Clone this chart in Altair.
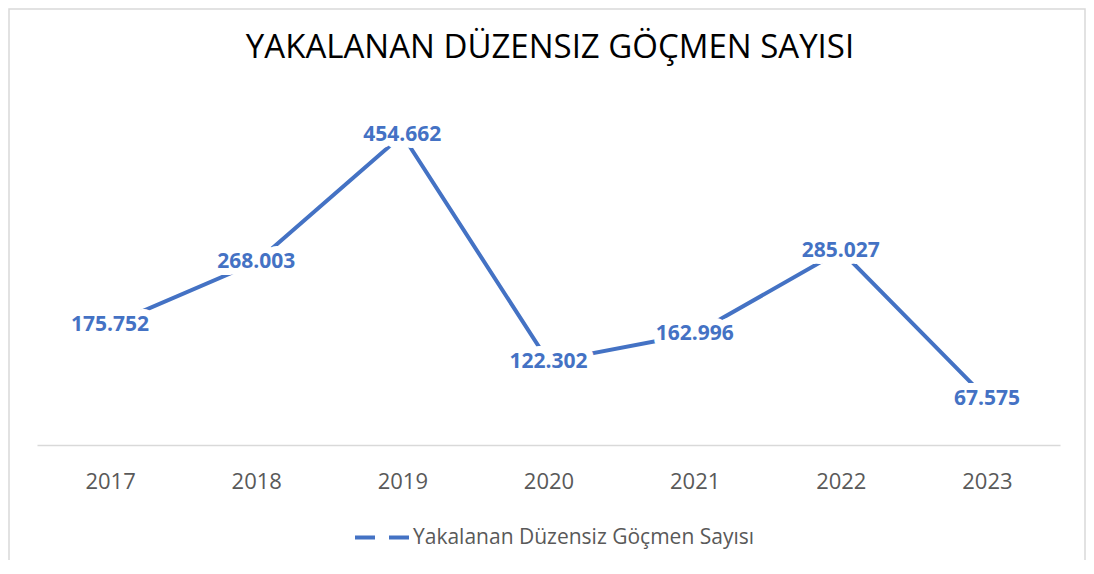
import altair as alt
import pandas as pd

years = ["2017", "2018", "2019", "2020", "2021", "2022", "2023"]
values = [175752, 268003, 454662, 122302, 162996, 285027, 67575]
series_name = "Yakalanan Düzensiz Göçmen Sayısı"
title_text = "YAKALANAN DÜZENSIZ GÖÇMEN SAYISI"

df = pd.DataFrame({
    "year": years,
    "value": values,
    "label": [f"{v:,}".replace(",", ".") for v in values],
    "series": [series_name] * len(years),
})
title_df = pd.DataFrame({"t": [title_text]})

BLUE = "#4472C4"
FONT = "Open Sans"

x = alt.X("year:N", sort=years, scale=alt.Scale(padding=0.5),
          axis=alt.Axis(title=None, labelAngle=0, labelFontSize=22, labelColor="#595959",
                        labelFont=FONT, ticks=False, domainColor="#D9D9D9", domainWidth=1.5,
                        labelPadding=26, grid=False))
y = alt.Y("value:Q", scale=alt.Scale(domain=[0, 500000], nice=False), axis=None)

base = alt.Chart(df)

line = base.mark_line(strokeWidth=4, strokeCap="butt").encode(
    x=x, y=y,
    color=alt.Color("series:N", scale=alt.Scale(range=[BLUE]),
                    legend=alt.Legend(title=None, orient="none", legendX=316, legendY=404,
                                      symbolType="stroke", symbolSize=3025, symbolStrokeWidth=4,
                                      symbolDash=[20, 14], labelFontSize=21, labelColor="#595959",
                                      labelFont=FONT, labelOffset=1, padding=0, labelLimit=0)),
)

halo = base.mark_text(fontSize=21, fontWeight="bold", font=FONT, color="white", stroke="white",
                      strokeWidth=14, strokeJoin="round").encode(x=x, y=y, text="label:N")
labels = base.mark_text(fontSize=21, fontWeight="bold", font=FONT, color=BLUE).encode(
    x=x, y=y, text="label:N")

title = alt.Chart(title_df).mark_text(fontSize=33, font=FONT, color="#000000",
                                      baseline="middle", align="center").encode(
    text="t:N", x=alt.value(513), y=alt.value(-56))

border = alt.Chart(title_df).mark_rect(fill=None, stroke="#D9D9D9", strokeWidth=1.5).encode(
    x=alt.value(-28), x2=alt.value(1048), y=alt.value(-95), y2=alt.value(500))

chart = alt.layer(border, title, line, halo, labels).properties(
    width=1023, height=341,
    autosize=alt.AutoSizeParams(type="none"),
    padding={"left": 29, "top": 96, "right": 26, "bottom": 115},
).configure(background="white").configure_view(strokeWidth=0, stroke="transparent")

chart.save("out.html", embed_options={"renderer": "svg", "actions": False})
